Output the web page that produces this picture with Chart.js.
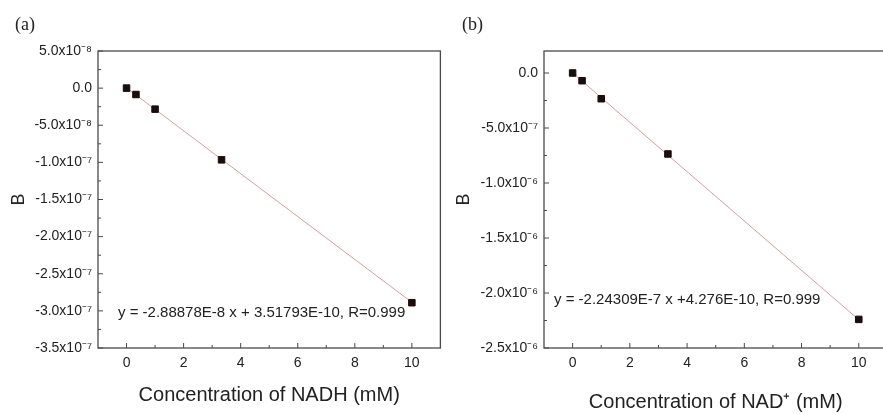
<!DOCTYPE html>
<html>
<head>
<meta charset="utf-8">
<script src="https://cdn.jsdelivr.net/npm/chart.js@4/dist/chart.umd.min.js"></script>
<style>
  html, body { margin: 0; padding: 0; background: #fff; overflow: hidden; width: 883px; height: 414px; }
  .panel { position: absolute; top: 0; height: 414px; }
  #pa { left: 0; width: 446px; }
  #pb { left: 441px; width: 452px; }
</style>
</head>
<body>
<div class="panel" id="pa"><canvas id="chartA" width="446" height="414"></canvas></div>
<div class="panel" id="pb"><canvas id="chartB" width="452" height="414"></canvas></div>
<script>
// concentrations (mM)
var concA = [0, 0.33, 1, 3.33, 10];
var concB = [0, 0.33, 1, 3.33, 10];
// B values
var valA = [0, -8.6e-9, -2.83e-8, -9.66e-8, -2.89e-7];
var valB = [0, -7.0e-8, -2.34e-7, -7.36e-7, -2.24e-6];
// fitted line end points
var fitXA = [0, 10];
var fitYA = [3.5e-10, -2.885e-7];
var fitXB = [0, 10];
var fitYB = [4.3e-10, -2.243e-6];

var xTicks = [0, 2, 4, 6, 8, 10];
var xTickLabels = ['0', '2', '4', '6', '8', '10'];
var yTicksA = [5e-8, 0, -5e-8, -1e-7, -1.5e-7, -2e-7, -2.5e-7, -3e-7, -3.5e-7];
var yLabelsA = ['5.0x10\u207B\u2078', '0.0', '-5.0x10\u207B\u2078', '-1.0x10\u207B\u2077', '-1.5x10\u207B\u2077',
                '-2.0x10\u207B\u2077', '-2.5x10\u207B\u2077', '-3.0x10\u207B\u2077', '-3.5x10\u207B\u2077'];
var yTicksB = [0, -5e-7, -1e-6, -1.5e-6, -2e-6, -2.5e-6];
var yLabelsB = ['0.0', '-5.0x10\u207B\u2077', '-1.0x10\u207B\u2076', '-1.5x10\u207B\u2076',
                '-2.0x10\u207B\u2076', '-2.5x10\u207B\u2076'];

var FONT = "'Liberation Sans', Arial, sans-serif";
var TXT = '#222';

// frame, inward ticks, panel letter and fit equation
var framePlugin = {
  id: 'frame',
  afterDraw: function(chart) {
    var o = chart.options.plugins.frame;
    var ctx = chart.ctx, a = chart.chartArea;
    var xs = chart.scales.x, ys = chart.scales.y;
    ctx.save();
    ctx.strokeStyle = '#4a4a4a';
    ctx.lineWidth = 1.3;
    ctx.strokeRect(a.left, a.top, a.right - a.left, a.bottom - a.top);
    ctx.lineWidth = 1;
    ctx.beginPath();
    var yt = o.yTicks;
    for (var i = 0; i < yt.length; i++) {
      var py = ys.getPixelForValue(yt[i]);
      ctx.moveTo(a.left, py); ctx.lineTo(a.left + 5, py);
      if (i < yt.length - 1) {
        var pm = ys.getPixelForValue((yt[i] + yt[i + 1]) / 2);
        ctx.moveTo(a.left, pm); ctx.lineTo(a.left + 3, pm);
      }
    }
    var xt = xTicks;
    for (var j = 0; j < xt.length; j++) {
      var px = xs.getPixelForValue(xt[j]);
      ctx.moveTo(px, a.bottom); ctx.lineTo(px, a.bottom - 5);
      var pmx = xs.getPixelForValue(xt[j] + 1);
      if (pmx < a.right - 2) { ctx.moveTo(pmx, a.bottom); ctx.lineTo(pmx, a.bottom - 3); }
    }
    ctx.stroke();

    ctx.fillStyle = TXT;
    ctx.textBaseline = 'middle';
    ctx.textAlign = 'left';
    ctx.font = "18px 'Liberation Serif', 'Times New Roman', serif";
    ctx.fillText(o.letter, o.letterX, 25);
    ctx.font = '15px ' + FONT;
    ctx.fillText(o.eq, xs.getPixelForValue(o.eqX), ys.getPixelForValue(o.eqY));
    ctx.restore();
  }
};

function makeChart(id, conc, vals, fx, fy, yMin, yMax, yTicks, yLabels, xTitle, cfg) {
  return new Chart(document.getElementById(id), {
    type: 'scatter',
    data: {
      datasets: [
        {
          data: conc.map(function(x, i) { return {x: x, y: vals[i]}; }),
          order: 0,
          pointStyle: 'rect',
          pointRadius: 4.6,
          backgroundColor: '#111',
          borderColor: '#2a0505',
          borderWidth: 1
        },
        {
          type: 'line',
          order: 1,
          data: fx.map(function(x, i) { return {x: x, y: fy[i]}; }),
          borderColor: 'rgb(214,158,158)',
          borderWidth: 1,
          pointRadius: 0,
          fill: false
        }
      ]
    },
    options: {
      responsive: false,
      animation: false,
      devicePixelRatio: 1,
      layout: { padding: { left: 0, right: cfg.padRight, top: 51, bottom: 0 } },
      plugins: {
        legend: { display: false },
        tooltip: { enabled: false },
        frame: { yTicks: yTicks, letter: cfg.letter, letterX: cfg.letterX, eq: cfg.eq, eqX: cfg.eqX, eqY: cfg.eqY }
      },
      scales: {
        x: {
          type: 'linear',
          min: -1, max: 11,
          grid: { display: false, drawTicks: false },
          border: { display: false },
          afterBuildTicks: function(s) { s.ticks = xTicks.map(function(v) { return {value: v}; }); },
          afterFit: function(s) { s.height = 414 - 348; },
          ticks: {
            padding: 7,
            color: TXT,
            font: { family: FONT, size: 14 },
            callback: function(v, i) { return xTickLabels[i]; }
          },
          title: {
            display: true,
            text: xTitle,
            color: TXT,
            font: { family: FONT, size: 20 },
            padding: { top: 0, bottom: cfg.xTitlePad }
          }
        },
        y: {
          type: 'linear',
          min: yMin, max: yMax,
          grid: { display: false, drawTicks: false },
          border: { display: false },
          afterBuildTicks: function(s) { s.ticks = yTicks.map(function(v) { return {value: v}; }); },
          afterFit: function(s) { s.width = cfg.yWidth; },
          ticks: {
            padding: 6,
            autoSkip: false,
            color: TXT,
            font: { family: FONT, size: 14 },
            callback: function(v, i) { return yLabels[i]; }
          },
          title: {
            display: true,
            text: 'B',
            color: TXT,
            font: { family: FONT, size: 18 },
            padding: { top: cfg.yTitlePad, bottom: 0 }
          }
        }
      }
    },
    plugins: [framePlugin]
  });
}

makeChart('chartA', concA, valA, fitXA, fitYA, -3.5e-7, 5e-8, yTicksA, yLabelsA,
  'Concentration of NADH (mM)',
  { padRight: 3, yWidth: 98, xTitlePad: 7, yTitlePad: 8, letter: '(a)', letterX: 15,
    eq: 'y = -2.88878E-8 x + 3.51793E-10, R=0.999', eqX: -0.3, eqY: -3.03e-7 });

makeChart('chartB', concB, valB, fitXB, fitYB, -2.5e-6, 2e-7, yTicksB, yLabelsB,
  'Concentration of NAD\u207A (mM)',
  { padRight: 2.4, yWidth: 103, xTitlePad: 0, yTitlePad: 12, letter: '(b)', letterX: 21,
    eq: 'y = -2.24309E-7 x +4.276E-10, R=0.999', eqX: -0.65, eqY: -2.06e-6 });
</script>
</body>
</html>
